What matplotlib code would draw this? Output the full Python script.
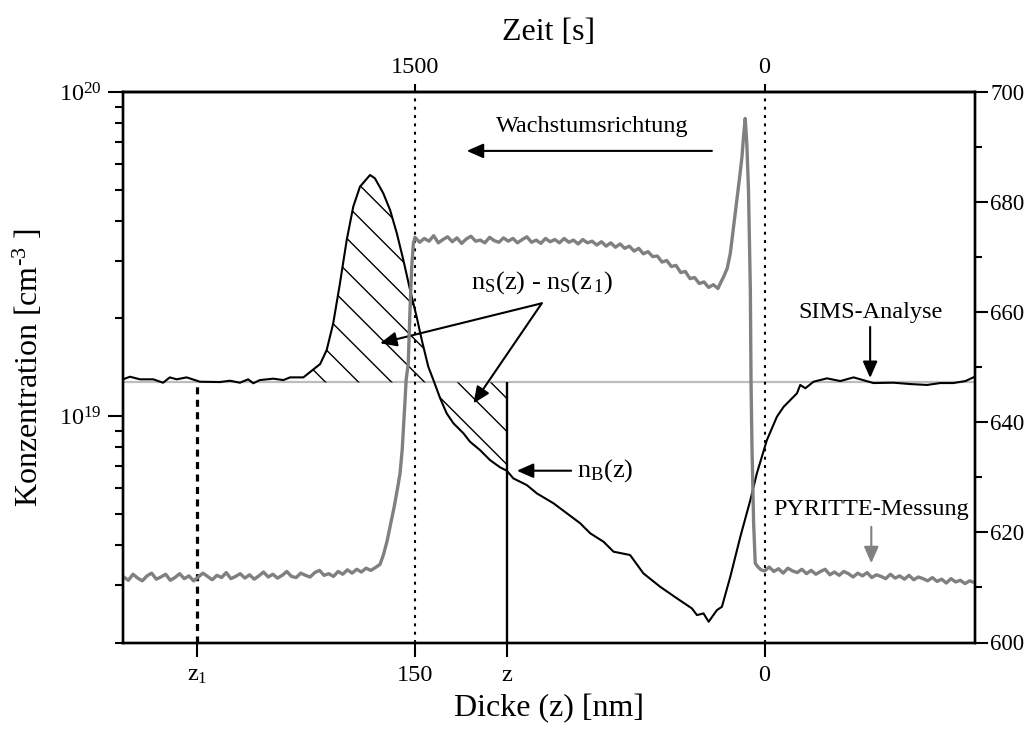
import numpy as np
import matplotlib
matplotlib.use("Agg")
import matplotlib.pyplot as plt
from matplotlib.lines import Line2D
from matplotlib.ticker import MultipleLocator, LogLocator, NullFormatter

plt.rcParams['font.family'] = ['Liberation Serif', 'DejaVu Serif']
plt.rcParams['mathtext.fontset'] = 'custom'
plt.rcParams['mathtext.rm'] = 'Liberation Serif'
plt.rcParams['mathtext.it'] = 'Liberation Serif:italic'
plt.rcParams['mathtext.bf'] = 'Liberation Serif:bold'

# SIMS depth profile: depth z [nm] and concentration [cm^-3]
sims_z = [275.3, 272.3, 268.0, 262.3, 258.1, 255.2, 252.3, 248.0, 242.3, 233.7,
          229.4, 225.1, 221.6, 219.4, 216.6, 210.8, 206.5, 203.6, 197.9, 190.7,
          187.9, 185.1, 182.2, 179.3, 176.5, 173.6, 169.3, 167.2, 163.6, 160.7,
          157.8, 155.0, 152.1, 149.3, 147.1, 144.3, 142.1, 139.2, 136.4, 133.5,
          129.2, 126.4, 122.1, 117.8, 113.5, 110.6, 107.8, 102.0, 97.7, 90.6,
          84.8, 79.1, 74.8, 69.1, 64.8, 57.7, 52.0, 44.8, 37.6, 31.2,
          29.0, 26.2, 24.0, 20.4, 18.3, 14.7, 10.4, 6.1, 3.3, -1.0,
          -5.3, -8.2, -13.9, -15.3, -17.5, -21.0, -26.8, -32.5, -38.2, -46.7,
          -55.3, -62.6, -69.7, -75.4, -81.0, -86.2, -89.6]
sims_c = [1.298, 1.322, 1.298, 1.298, 1.267, 1.316, 1.298, 1.316, 1.276, 1.273,
          1.285, 1.267, 1.298, 1.262, 1.291, 1.304, 1.291, 1.316, 1.316, 1.447,
          1.598, 1.932, 2.568, 3.493, 4.426, 5.104, 5.544, 5.415, 4.867, 4.323,
          3.664, 3.030, 2.448, 2.025, 1.717, 1.420, 1.291, 1.134, 1.019, 0.9495,
          0.8842, 0.833, 0.785, 0.731, 0.6945, 0.678, 0.642, 0.612, 0.577, 0.538,
          0.5007, 0.4665, 0.4345, 0.4093, 0.3813, 0.3724, 0.3269, 0.2972, 0.2737, 0.2549,
          0.243, 0.246, 0.2318, 0.2519, 0.2578, 0.3192, 0.424, 0.5504, 0.6654, 0.843,
          0.995, 1.068, 1.175, 1.247, 1.218, 1.276, 1.307, 1.282, 1.316, 1.264,
          1.267, 1.255, 1.247, 1.264, 1.264, 1.282, 1.316]
sims_c = [v * 1e19 for v in sims_c]

# PYRITTE temperature trace (right axis) against depth
pyr_z = [275, 273, 271, 269, 267, 265, 263, 261, 259, 257,
         255, 253, 251, 249, 247, 245, 243, 241, 239, 237,
         235, 233, 231, 229, 227, 225, 223, 221, 219, 217,
         215, 213, 211, 209, 207, 205, 203, 201, 199, 197,
         195, 193, 191, 189, 187, 185, 183, 181, 179, 177,
         175, 173, 171, 169,
         167, 165, 163.5, 162, 160.5, 159, 157.5, 156.4, 155.5, 155,
         154.4, 153.8, 152.9, 152.1, 151.4, 150.7,
         150, 148, 146, 144, 142, 140, 138, 136, 134, 132,
         130, 128, 126, 124, 122, 120, 118, 116, 114, 112,
         110, 108, 106, 104, 102, 100, 98, 96, 94, 92,
         90,
         88, 86, 84, 82, 80, 78, 76, 74, 72, 70,
         68, 66, 64, 62, 60, 58, 56, 54, 52, 50,
         48, 46, 44, 42, 40, 38, 36, 34, 32, 30,
         28, 26, 24, 22, 20,
         18.8, 17.6, 16, 14.7, 13.3, 11.9, 10.7, 9.7, 9.0, 8.3,
         7.6, 6.9, 6.1, 5.8, 5.4, 4.7, 4.0, 3.0, 1.5,
         0, -2, -4, -6, -8, -10, -12, -14, -16, -18,
         -20, -22, -24, -26, -28, -30, -32, -34, -36, -38,
         -40, -42, -44, -46, -48, -50, -52, -54, -56, -58,
         -60, -62, -64, -66, -68, -70, -72, -74, -76, -78,
         -80, -82, -84, -86, -88, -90]
pyr_T = [611.9, 611.3, 612.4, 611.7, 611.2, 612.1, 612.6, 611.5, 611.9, 612.4,
         611.3, 611.8, 612.5, 611.6, 612.1, 611.2, 611.9, 612.6, 612.0, 611.4,
         612.2, 611.8, 612.7, 611.6, 612.0, 612.5, 611.7, 612.3, 611.5, 612.1,
         612.8, 611.9, 612.4, 611.7, 612.2, 612.9, 612.0, 611.8, 612.6, 612.2,
         611.9, 612.7, 613.1, 612.2, 612.5, 612.0, 612.9, 612.4, 613.2, 612.6,
         613.3, 612.8, 613.5, 613.1,
         613.6, 614.2, 616.0, 618.4, 621.5, 624.5, 628.0, 630.8, 635.0, 638.6,
         643.0, 647.7, 650.7, 661.0, 668.3, 672.5,
         673.6, 672.7, 673.4, 672.9, 673.9, 672.6, 673.2, 673.7, 672.8, 673.5,
         672.5, 673.3, 673.8, 672.9, 673.1, 672.6, 673.6, 673.0, 672.7, 673.5,
         672.9, 673.4, 672.6, 673.2, 673.7, 672.7, 673.1, 672.5, 673.4, 672.8,
         673.2,
         672.6, 673.4, 672.7, 673.1, 672.4, 673.2, 672.6, 672.9, 672.2, 672.8,
         672.0, 672.6, 671.8, 672.4, 671.6, 672.0, 671.1, 671.6, 670.6, 671.0,
         670.1, 670.2, 669.1, 669.4, 668.3, 668.5, 667.2, 667.4, 666.1, 666.3,
         665.2, 665.5, 664.5, 665.0, 664.3,
         665.4, 666.4, 668.0, 670.7, 675.5, 680.4, 684.5, 688.2, 692.0, 695.2,
         690.5, 682.2, 664.0, 647.1, 635.6, 621.7, 614.4, 613.8, 613.2,
         613.0, 613.7, 612.9, 613.4, 612.6, 613.5, 613.0, 612.7, 613.3, 612.5,
         613.1, 612.4, 612.9, 613.3, 612.3, 612.8, 612.2, 612.9, 612.5, 611.9,
         612.6, 612.1, 612.7, 611.8, 612.3, 612.0, 611.6, 612.4, 611.7, 612.1,
         611.5, 612.2, 611.4, 611.9, 611.6, 611.2, 611.8, 611.1, 611.5, 610.8,
         611.6, 611.0, 611.3, 610.7, 611.2, 610.9]

# Marked depths and the background level n_S(z_1)
z1 = 243.5
z_mark = 110.6
base_level = 1.27e19

# axis tick values
depth_ticks = [z1, 150, z_mark, 0]
depth_labels = [r'z$_{1}$', '150', 'z', '0']
time_ticks = [1500, 0]
temp_ticks = [600, 620, 640, 660, 680, 700]

fig = plt.figure(figsize=(10.30, 7.31), dpi=100)
W, H = 852, 550.5
ax = fig.add_axes([123 / 1030, 1 - 642.5 / 731, W / 1030, H / 731])
ax.set_yscale('log')
ax.set_xlim(275.3, -90.3)
ax.set_ylim(2e18, 1e20)

for sp in ax.spines.values():
    sp.set_linewidth(1.7)

# background reference line
ax.axhline(base_level, color='#bdbdbd', lw=1.6, zorder=1)

# SIMS profile
ax.plot(sims_z, sims_c, color='black', lw=1.5, zorder=3)

# hatched area between the profile and n_S(z_1), up to depth z
zs = np.array(sims_z)
cs = np.array(sims_c)
c_at_mark = 10 ** np.interp(z_mark, zs[::-1], np.log10(cs[::-1]))
sel = (zs <= 200) & (zs > z_mark)
fz = np.concatenate([zs[sel], [z_mark]])
fc = np.concatenate([cs[sel], [c_at_mark]])
region = ax.fill_between(fz, fc, base_level, facecolor='none', edgecolor='none', lw=0)
clip_path = region.get_paths()[0]
ratio = H / W
step = 33 / W
for x0 in np.arange(-0.8, 1.2, step):
    ln = Line2D([x0, x0 + ratio], [1, 0], transform=ax.transAxes, color='black', lw=1.0)
    ax.add_line(ln)
    ln.set_clip_path(clip_path, ax.transData)

# depth markers
ax.vlines(z_mark, 2e18, base_level, color='black', lw=1.7, zorder=3)
ax.vlines(z1, 2e18, base_level, color='black', lw=2.3, linestyles=[(0, (2.2, 1.7))], zorder=3)
ax.axvline(150, color='black', lw=1.5, ls=(0, (1.4, 2.6)), zorder=2)
ax.axvline(0, color='black', lw=1.5, ls=(0, (1.4, 2.6)), zorder=2)

# axes ticks and labels
ax.set_xticks(depth_ticks)
ax.set_xticklabels(depth_labels)
ax.tick_params(axis='x', which='major', direction='out', length=10, width=1.5,
               labelsize=17.5, pad=6, top=False)
ax.yaxis.set_major_locator(LogLocator(base=10, numticks=10))
ax.yaxis.set_minor_locator(LogLocator(base=10, subs=np.arange(2, 10), numticks=20))
ax.yaxis.set_minor_formatter(NullFormatter())
ax.tick_params(axis='y', which='major', direction='out', length=11, width=1.5,
               labelsize=17.5, pad=4, right=False)
ax.tick_params(axis='y', which='minor', direction='out', length=6, width=1.5, right=False)
ax.set_xlabel('Dicke (z) [nm]', fontsize=23, labelpad=6)
ax.set_ylabel(r'Konzentration [cm$^{\text{-3}}$ ]', fontsize=23, labelpad=10)

# time axis on top
sec = ax.secondary_xaxis('top', functions=(lambda z: np.asarray(z) * 10.0,
                                           lambda t: np.asarray(t) / 10.0))
sec.set_xticks(time_ticks)
sec.tick_params(direction='out', length=6, width=1.5, labelsize=17.5, pad=4)
sec.spines['top'].set_linewidth(1.7)
sec.set_xlabel('Zeit [s]', fontsize=23, labelpad=12)

# temperature axis on the right
ax2 = ax.twinx()
ax2.set_ylim(600, 700)
ax2.set_yticks(temp_ticks)
ax2.yaxis.set_minor_locator(MultipleLocator(10))
ax2.tick_params(axis='y', which='major', direction='out', length=9, width=1.5,
                labelsize=16.5, pad=2)
ax2.tick_params(axis='y', which='minor', direction='out', length=5, width=1.5)
for sp in ax2.spines.values():
    sp.set_linewidth(1.7)
ax2.plot(pyr_z, pyr_T, color='#808080', lw=2.4, zorder=2)

# annotations
head = '-|>,head_length=0.5,head_width=0.22'
ax.annotate('Wachstumsrichtung', xy=(74.0, 7.8e19), ha='center', va='center', fontsize=17.5)
ax.annotate('', xy=(127.8, 6.58e19), xytext=(22.6, 6.58e19),
            arrowprops=dict(arrowstyle=head, mutation_scale=20, lw=1.5, color='black',
                            shrinkA=0, shrinkB=0))

ax.annotate(r'n$_{\mathrm{S}}$(z) - n$_{\mathrm{S}}$(z$_{\,1}$)', xy=(95.5, 2.574e19),
            ha='center', va='center', fontsize=19)
for tip in [(165.0, 1.677e19), (124.9, 1.094e19)]:
    ax.annotate('', xy=tip, xytext=(95.6, 2.228e19),
                arrowprops=dict(arrowstyle=head, mutation_scale=20, lw=1.5, color='black',
                                shrinkA=0, shrinkB=0))

ax.annotate('', xy=(106.3, c_at_mark), xytext=(83.0, c_at_mark),
            arrowprops=dict(arrowstyle=head, mutation_scale=20, lw=1.5, color='black',
                            shrinkA=0, shrinkB=0))
ax.annotate(r'n$_{\mathrm{B}}$(z)', xy=(80.4, c_at_mark), ha='left', va='center', fontsize=19)

ax.annotate('SIMS-Analyse', xy=(-45.3, 2.094e19), ha='center', va='center', fontsize=17.5)
ax.annotate('', xy=(-45.3, 1.31e19), xytext=(-45.3, 1.883e19),
            arrowprops=dict(arrowstyle=head, mutation_scale=20, lw=1.5, color='black',
                            shrinkA=0, shrinkB=0))

ax2.annotate('PYRITTE-Messung', xy=(-45.8, 624.1), ha='center', va='center', fontsize=17.5)
ax2.annotate('', xy=(-45.8, 614.4), xytext=(-45.8, 621.0),
             arrowprops=dict(arrowstyle=head, mutation_scale=20, lw=1.5, color='#808080',
                             shrinkA=0, shrinkB=0))

fig.savefig('out.png', dpi=100)
